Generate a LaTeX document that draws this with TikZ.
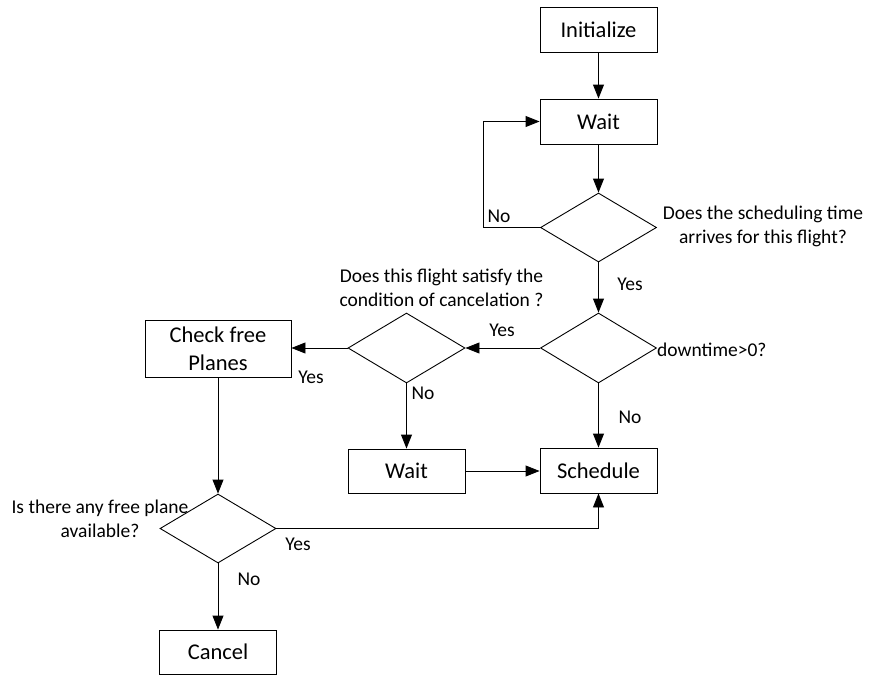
\documentclass[tikz,border=0pt]{standalone}
\usepackage{fontspec}
\setmainfont{Carlito}
\usetikzlibrary{shapes.geometric,arrows.meta}
\tikzset{
  box/.style={draw, line width=0.9pt, inner sep=0pt, align=center, minimum width=117pt, minimum height=45pt, font=\fontsize{22.5}{28}\selectfont},
  dec/.style={draw, diamond, line width=0.9pt, inner sep=0pt, minimum width=116pt, minimum height=69pt},
  lbl/.style={inner sep=0pt, align=center, font=\fontsize{19.5}{24}\selectfont},
  arr/.style={-{Triangle[length=14pt,width=11pt]}, line width=0.9pt}
}
\begin{document}
\begin{tikzpicture}[x=1pt,y=-1pt]
\useasboundingbox (0,0) rectangle (871,675);
% boxes
\node[box] (init) at (598.5,29.5) {Initialize};
\node[box] (wait) at (598.5,121.5) {Wait};
\node[box] (sched) at (598.5,470.5) {Schedule};
\node[box, minimum height=44pt] (wait2) at (406.5,471) {Wait};
\node[box, minimum width=146pt, minimum height=57pt] (check) at (218,348.5) {Check free\\Planes};
\node[box, minimum height=44pt] (cancel) at (218,652) {Cancel};
% decisions
\node[dec] (d1) at (598.5,227.5) {};
\node[dec, minimum height=70pt] (d2) at (598.5,348) {};
\node[dec, minimum width=117pt, minimum height=70pt] (d3) at (406.5,348) {};
\node[dec] (d4) at (218,528.5) {};
% connectors
\draw[arr] (init.south) -- (wait.north);
\draw[arr] (wait.south) -- (d1.north);
\draw[arr] (d1.west) -- ++(-57,0) |- (wait.west);
\draw[arr] (d1.south) -- (d2.north);
\draw[arr] (d2.west) -- (d3.east);
\draw[arr] (d3.west) -- (d3.west -| check.east);
\draw[arr] (check.south) -- (d4.north);
\draw[arr] (d4.south) -- (cancel.north);
\draw[arr] (d3.south) -- (wait2.north);
\draw[arr] (wait2.east) -- (wait2.east -| sched.west);
\draw[arr] (d2.south) -- (sched.north);
\draw[arr] (d4.east) -| (sched.south);
% labels
\node[lbl] (l1) at (499,216) {No};
\node[lbl] (q1) at (763,226) {Does the scheduling time\\arrives for this flight?};
\node[lbl] (l2) at (630,284) {Yes};
\node[lbl, anchor=west] (q2) at (657,350) {downtime>0?};
\node[lbl] (l3) at (502,330) {Yes};
\node[lbl] (q3) at (441.5,288) {Does this flight satisfy the\\condition of cancelation ?};
\node[lbl] (l4) at (311,377) {Yes};
\node[lbl] (l5) at (423,393) {No};
\node[lbl] (l6) at (630,417) {No};
\node[lbl] (q4) at (100,519) {Is there any free plane\\available?};
\node[lbl] (l7) at (298,544) {Yes};
\node[lbl] (l8) at (249,579) {No};
\end{tikzpicture}
\end{document}
